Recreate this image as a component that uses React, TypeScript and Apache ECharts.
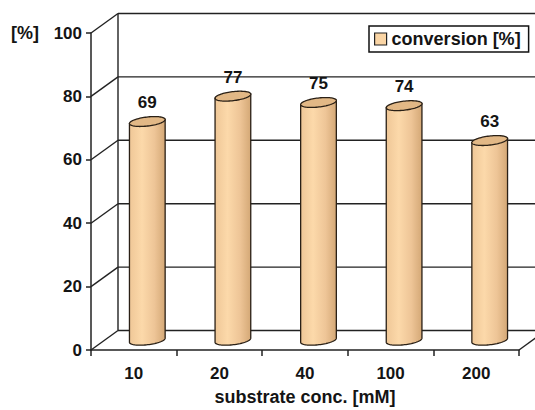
import React, { useEffect, useRef } from 'react';
import * as echarts from 'echarts';

const categories = ['10', '20', '40', '100', '200'];
const conversion = [69, 77, 75, 74, 63];
const yTicks = [0, 20, 40, 60, 80, 100];
const seriesName = 'conversion [%]';
const xTitle = 'substrate conc. [mM]';
const yTitle = '[%]';

const DEPTH_X = 27;
const DEPTH_Y = -19.5;
const TILT = 0.12;
const FONT = '"Liberation Sans", Arial, Helvetica, sans-serif';
const INK = '#141414';

function ellPoint(cx: number, cy: number, rx: number, ry: number, t: number): number[] {
  const c = Math.cos(TILT), s = Math.sin(TILT);
  return [
    cx + rx * Math.cos(t) * c + ry * Math.sin(t) * s,
    cy - rx * Math.cos(t) * s + ry * Math.sin(t) * c,
  ];
}

export default function App() {
  const ref = useRef<HTMLDivElement>(null);
  useEffect(() => {
    document.body.style.margin = '0';
    const chart = echarts.init(ref.current!, null, { renderer: 'svg' });
    const frameStyle = { stroke: '#222', lineWidth: 1.4 };
    const bodyGrad = new echarts.graphic.LinearGradient(0, 0, 1, 0, [
      { offset: 0, color: '#efc797' },
      { offset: 0.35, color: '#fcd9aa' },
      { offset: 0.7, color: '#eec597' },
      { offset: 1, color: '#d4a876' },
    ]);
    const option: any = {
      animation: false,
      textStyle: { fontFamily: FONT },
      grid: { left: 91, top: 33, width: 428, height: 317, outerBoundsMode: 'none', containLabel: false },
      legend: {
        left: 369,
        top: 26,
        data: [
          {
            name: seriesName,
            icon: 'rect',
            itemStyle: { color: '#fad5a5', borderColor: '#222', borderWidth: 1.2 },
          },
        ],
        itemWidth: 12,
        itemHeight: 12,
        itemGap: 5,
        padding: [4, 8, 4, 5],
        borderColor: '#111',
        borderWidth: 1.5,
        backgroundColor: '#fff',
        selectedMode: false,
        textStyle: { fontFamily: FONT, fontWeight: 'bold', fontSize: 18, color: INK },
      },
      xAxis: {
        type: 'category',
        data: categories,
        boundaryGap: true,
        axisLine: { show: true, lineStyle: { color: '#222', width: 1.5 } },
        axisTick: { show: true, interval: 0, length: 6, lineStyle: { color: '#222', width: 1.5 } },
        axisLabel: { fontFamily: FONT, fontWeight: 'bold', fontSize: 17, color: INK, margin: 15 },
        splitLine: { show: false },
        name: xTitle,
        nameLocation: 'middle',
        nameGap: 38,
        nameTextStyle: { fontFamily: FONT, fontWeight: 'bold', fontSize: 18, color: INK },
      },
      yAxis: {
        type: 'value',
        min: 0,
        max: 100,
        interval: 20,
        axisLine: { show: true, lineStyle: { color: '#222', width: 1.5 } },
        axisTick: { show: true, length: 5, lineStyle: { color: '#222', width: 1.5 } },
        axisLabel: { fontFamily: FONT, fontWeight: 'bold', fontSize: 17, color: INK, margin: 9 },
        splitLine: { show: false },
      },
      graphic: [
        {
          type: 'text',
          left: 11,
          top: 24,
          style: { text: yTitle, fontFamily: FONT, fontWeight: 'bold', fontSize: 18, fill: INK },
        },
      ],
      series: [
        {
          type: 'custom',
          name: 'frame',
          data: [[0, 0]],
          clip: false,
          silent: true,
          z: 1,
          renderItem: (params: any, api: any) => {
            const cs = params.coordSys;
            const left = cs.x;
            const right = cs.x + cs.width;
            const children: any[] = [];
            yTicks.forEach((v) => {
              const y = api.coord([0, v])[1];
              children.push({
                type: 'line',
                shape: { x1: left, y1: y, x2: left + DEPTH_X, y2: y + DEPTH_Y },
                style: frameStyle,
              });
              children.push({
                type: 'line',
                shape: { x1: left + DEPTH_X, y1: y + DEPTH_Y, x2: right + DEPTH_X + 10, y2: y + DEPTH_Y },
                style: frameStyle,
              });
            });
            const y0 = api.coord([0, yTicks[0]])[1];
            const yTop = api.coord([0, yTicks[yTicks.length - 1]])[1];
            children.push({
              type: 'line',
              shape: { x1: left + DEPTH_X, y1: y0 + DEPTH_Y, x2: left + DEPTH_X, y2: yTop + DEPTH_Y },
              style: frameStyle,
            });
            children.push({
              type: 'line',
              shape: { x1: right, y1: y0, x2: right + DEPTH_X, y2: y0 + DEPTH_Y },
              style: frameStyle,
            });
            return { type: 'group', children };
          },
        },
        {
          type: 'custom',
          name: seriesName,
          data: conversion.map((v, i) => [i, v]),
          encode: { x: 0, y: 1 },
          clip: false,
          z: 3,
          itemStyle: { color: '#fad5a5' },
          renderItem: (params: any, api: any) => {
            const cat = api.value(0);
            const val = api.value(1);
            const top = api.coord([cat, val]);
            const base = api.coord([cat, 0]);
            const cx = top[0] + DEPTH_X / 2;
            const topY = top[1] + DEPTH_Y / 2;
            const baseY = base[1] + DEPTH_Y / 2;
            const rx = api.size([1, 0])[0] * 0.21;
            const ry = 4.5;
            const N = 40;
            const body: number[][] = [];
            body.push(ellPoint(cx, topY, rx, ry, 0));
            for (let k = 0; k <= N; k++) body.push(ellPoint(cx, baseY, rx, ry, (Math.PI * k) / N));
            body.push(ellPoint(cx, topY, rx, ry, Math.PI));
            const cap: number[][] = [];
            for (let k = 0; k < N * 2; k++) cap.push(ellPoint(cx, topY, rx, ry, (Math.PI * k) / N));
            return {
              type: 'group',
              children: [
                {
                  type: 'polygon',
                  shape: { points: body },
                  style: { fill: bodyGrad, stroke: '#2a2016', lineWidth: 1.3 },
                },
                {
                  type: 'polygon',
                  shape: { points: cap },
                  style: { fill: '#e2b886', stroke: '#2a2016', lineWidth: 1.3 },
                },
                {
                  type: 'text',
                  x: cx,
                  y: topY - 19,
                  style: {
                    text: String(val),
                    fontFamily: FONT,
                    fontWeight: 'bold',
                    fontSize: 17,
                    fill: INK,
                    align: 'center',
                    verticalAlign: 'middle',
                  },
                },
              ],
            };
          },
        },
      ],
    };
    chart.setOption(option);
    return () => chart.dispose();
  }, []);
  return (
    <div
      ref={ref}
      style={{ position: 'fixed', left: 0, top: 0, width: 535, height: 410, background: '#fff' }}
    />
  );
}
